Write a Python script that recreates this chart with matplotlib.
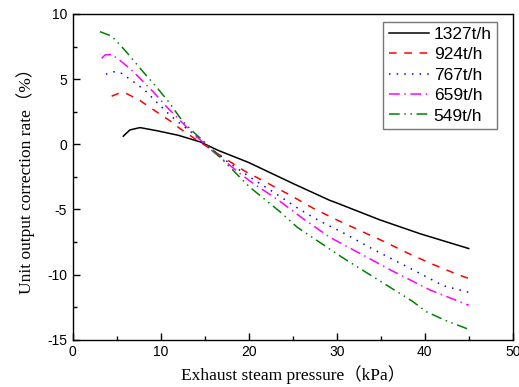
import matplotlib
matplotlib.use("Agg")
import matplotlib.pyplot as plt
from matplotlib.ticker import MultipleLocator

plt.rcParams["axes.unicode_minus"] = False

labels = ["1327t/h", "924t/h", "767t/h", "659t/h", "549t/h"]

x_1327 = [5.75, 6.5, 7.65, 9.5, 12.0, 14.5, 16.5, 20.0, 25.0, 29.2, 30.0, 34.9, 39.5, 45.0]
y_1327 = [0.62, 1.1, 1.28, 1.05, 0.69, 0.18, -0.46, -1.4, -3.0, -4.3, -4.5, -5.8, -6.87, -8.0]

x_924 = [4.43, 5.2, 5.94, 7.45, 8.6, 9.92, 11.06, 12.2, 13.3, 17.1, 19.6, 22.2, 24.7, 27.3, 30.0, 32.8, 35.5, 38.1, 40.8, 43.4, 45.0]
y_924 = [3.69, 3.9, 3.95, 3.44, 2.92, 2.31, 1.8, 1.2, 0.69, -1.0, -2.08, -3.0, -3.9, -4.9, -5.8, -6.67, -7.5, -8.36, -9.18, -9.9, -10.3]

x_767 = [3.78, 4.7, 5.57, 6.9, 8.2, 9.5, 11.06, 12.2, 12.95, 17.7, 20.1, 22.8, 25.8, 28.1, 30.6, 34.4, 38.3, 42.1, 45.0]
y_767 = [5.38, 5.56, 5.44, 4.8, 4.15, 3.26, 2.23, 1.59, 1.2, -1.4, -2.5, -3.67, -5.0, -5.9, -6.74, -8.15, -9.5, -10.85, -11.36]

x_659 = [3.3, 3.67, 4.43, 5.57, 6.7, 7.84, 9.16, 10.5, 11.8, 13.3, 16.0, 18.8, 20.3, 23.4, 26.2, 29.2, 32.6, 36.1, 40.6, 45.0]
y_659 = [6.59, 6.85, 6.9, 6.33, 5.69, 4.92, 4.02, 3.0, 2.1, 1.08, -0.59, -2.13, -2.9, -4.3, -5.72, -7.13, -8.36, -9.64, -11.18, -12.35]

x_549 = [3.1, 4.43, 5.57, 6.5, 8.0, 9.5, 10.9, 12.4, 13.7, 15.4, 17.1, 20.1, 23.6, 25.5, 27.2, 28.9, 30.9, 32.8, 34.7, 36.6, 38.5, 40.2, 42.3, 45.0]
y_549 = [8.64, 8.3, 7.49, 6.77, 5.56, 4.41, 3.26, 1.85, 0.95, -0.08, -1.23, -3.28, -5.2, -6.36, -7.13, -7.9, -8.8, -9.6, -10.4, -11.2, -12.0, -12.85, -13.5, -14.2]

series_x = [x_1327, x_924, x_767, x_659, x_549]
series_y = [y_1327, y_924, y_767, y_659, y_549]
colors = ["#000000", "#FF0000", "#0000FF", "#FF00FF", "#008000"]
styles = ["-", (0, (5, 5)), (0, (1, 4)), (0, (7, 3, 1, 3)), (0, (7, 3, 1, 3, 1, 3))]

fig = plt.figure(figsize=(5.19, 3.87), dpi=100)
ax = fig.add_axes([0.14, 0.122, 0.848, 0.842])

for xs, ys, c, ls, lab in zip(series_x, series_y, colors, styles, labels):
    ax.plot(xs, ys, color=c, linestyle=ls, linewidth=1.1, label=lab)

ax.set_xlim(0, 50)
ax.set_ylim(-15, 10)
ax.xaxis.set_major_locator(MultipleLocator(10))
ax.xaxis.set_minor_locator(MultipleLocator(5))
ax.yaxis.set_major_locator(MultipleLocator(5))
ax.yaxis.set_minor_locator(MultipleLocator(2.5))
ax.tick_params(which="both", direction="in", top=False, right=False)
ax.tick_params(which="major", length=5, width=1, labelsize=10, pad=4)
ax.tick_params(which="minor", length=3, width=1)
for lbl in ax.get_xticklabels() + ax.get_yticklabels():
    lbl.set_family("Liberation Sans")
for s in ax.spines.values():
    s.set_linewidth(1.0)

ax.set_xlabel("Exhaust steam pressure（kPa）", family=["Liberation Serif", "Noto Sans CJK SC"], fontsize=12.5, labelpad=4)
ax.set_ylabel("Unit output correction rate（%）", family=["Liberation Serif", "Noto Sans CJK SC"], fontsize=12.5, labelpad=9)

leg = ax.legend(loc="upper right", bbox_to_anchor=(0.964, 0.976), prop={"family": "Liberation Sans", "size": 12.5},
                frameon=True, fancybox=False, edgecolor="#555555", handlelength=2.3, handletextpad=0.3,
                labelspacing=0.3, borderpad=0.3, borderaxespad=0.0)
leg.get_frame().set_linewidth(1.0)

fig.savefig("out.png", dpi=100)
